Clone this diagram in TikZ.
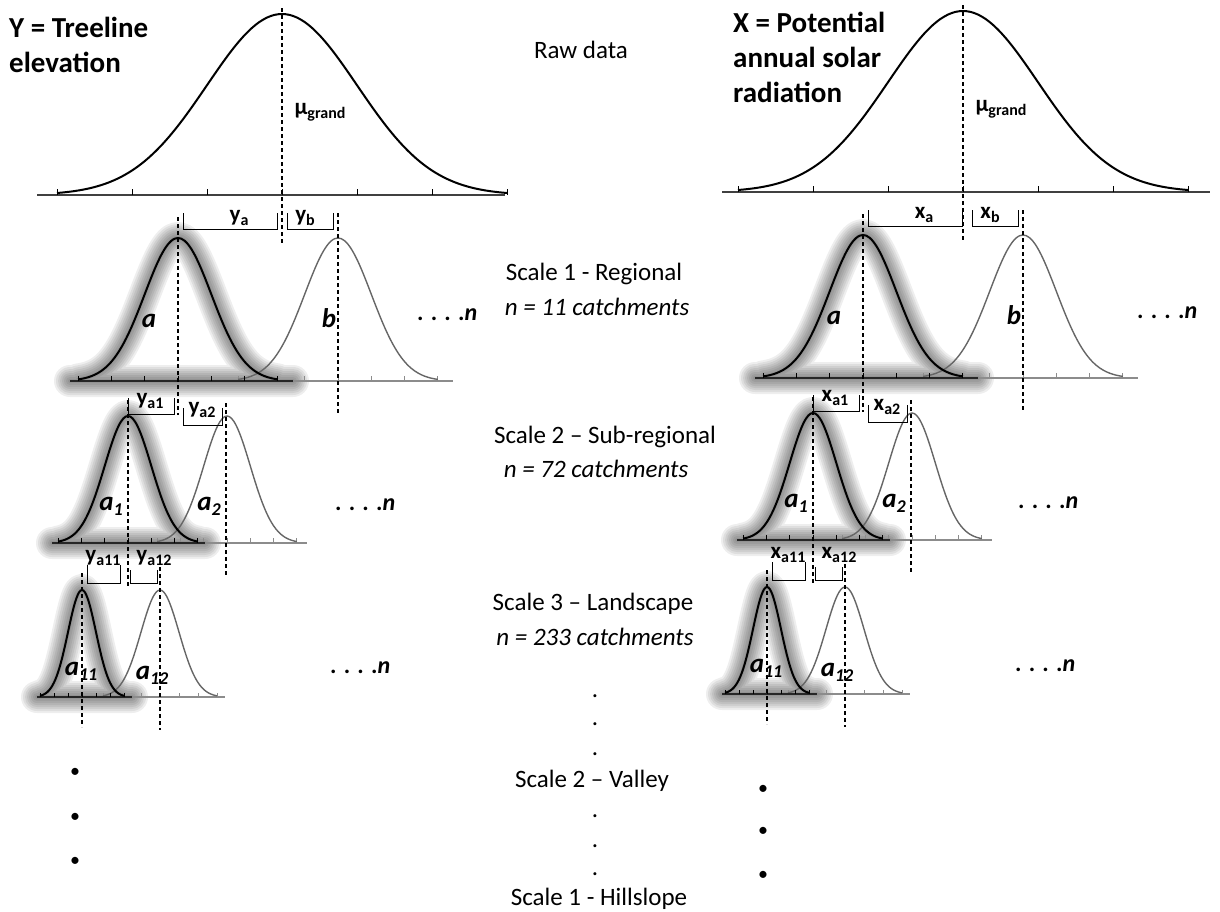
\documentclass[tikz,border=0pt]{standalone}
\usepackage{fontspec}
\setmainfont{Carlito}
\usetikzlibrary{positioning}

% bell curve as a plot path: centre, base, height, sigma
\newcommand{\bellpath}[4]{plot[domain=-3:3, samples=61, smooth] ({#1+#4*\x}, {#2-#3*exp(-0.5*(\x)^2)})}
% ticks under a curve: centre, base, sigma, length, style
\newcommand{\bellticks}[5]{\foreach \k in {-3,...,3} \draw[#5] ({#1+#3*\k},#2) -- ++(0,-#4);}
% soft shadow round the picked curve and its axis
\newcommand{\bellglow}[6]{\foreach \w in {32,28,...,4}
  \draw[black, line width=\w pt, opacity=0.065, line cap=round, line join=round] \bellpath{#1}{#2}{#3}{#4} (#5,#2) -- (#6,#2);}
\newcommand{\lblsub}[1]{\raisebox{-4pt}{\fontsize{16}{16}\selectfont #1}}
\newcommand{\itsub}[1]{\raisebox{-5pt}{\fontsize{18}{18}\selectfont #1}}

\begin{document}
\begin{tikzpicture}[x=1pt, y=-1pt,
    maincurve/.style={black, line width=2pt},
    subcurve/.style={black!60, line width=1.4pt},
    topaxis/.style={black!75, line width=1.4pt},
    mainaxis/.style={black!85, line width=2.6pt},
    subaxis/.style={black!45, line width=2pt},
    maintick/.style={black, line width=0.9pt},
    subtick/.style={black!45, line width=0.9pt},
    guide/.style={black, line width=1.1pt, dash pattern=on 4pt off 3pt},
    brace/.style={black, line width=0.9pt},
    lbl/.style={font=\fontsize{23}{26}\selectfont\bfseries, inner sep=0pt, anchor=base},
    itl/.style={font=\fontsize{27}{29}\selectfont\bfseries\itshape, inner sep=0pt, anchor=base},
    more/.style={font=\fontsize{24}{26}\selectfont\bfseries, inner sep=0pt, anchor=base west},
    title/.style={font=\fontsize{29}{35}\selectfont\bfseries, inner sep=0pt, anchor=north west, align=left},
    txt/.style={font=\fontsize{25}{28}\selectfont, inner sep=0pt, anchor=base},
  ]
  \useasboundingbox (0,0) rectangle (1220,911);

  % the two panels: Y on the left, X on the right
  \foreach \dx/\dy/\v/\gx/\ge in {0/0/y/282/505, 685/-3/x/278/525} {
    \begin{scope}[shift={(\dx,\dy)}]
      % raw data
      \draw[topaxis] (37,195) -- (\ge,195);
      \bellticks{\gx}{195}{75}{6}{maintick}
      \draw[maincurve] \bellpath{\gx}{195}{181}{75};
      \draw[guide] (\gx,8) -- (\gx,245);
      \node[lbl] (\v-mu) at (\gx+38,114) {µ\lblsub{grand}};

      % scale 1
      \bellglow{178}{381}{143}{33.3}{70}{293}
      \draw[subaxis] (233,381) -- (453,381);
      \bellticks{338}{381}{33.3}{5}{subtick}
      \draw[subcurve] \bellpath{338}{381}{143}{33.3};
      \draw[mainaxis] (70,381) -- (293,381);
      \bellticks{178}{381}{33.3}{5}{maintick}
      \draw[maincurve] \bellpath{178}{381}{143}{33.3};
      \draw[guide] (178,217) -- (178,415);
      \draw[guide] (338,213) -- (338,413);
      \draw[brace] (183,213) -- (183,229) -- (277,229) -- (277,213);
      \draw[brace] (287,213) -- (287,229) -- (333,229) -- (333,213);
      \node[lbl] (\v-da) at (239,221) {\v\lblsub{a}};
      \node[lbl] (\v-db) at (305,221) {\v\lblsub{b}};
      \node[itl] (\v-a) at (149,327) {a};
      \node[itl] (\v-b) at (329,327) {b};

      % scale 2
      \bellglow{128}{543}{127}{23.3}{52}{205}
      \draw[subaxis] (160,543) -- (307,543);
      \bellticks{227}{543}{23.3}{5}{subtick}
      \draw[subcurve] \bellpath{227}{543}{127}{23.3};
      \draw[mainaxis] (52,543) -- (205,543);
      \bellticks{128}{543}{23.3}{5}{maintick}
      \draw[maincurve] \bellpath{128}{543}{127}{23.3};
      \draw[guide] (128,400) -- (128,587);
      \draw[guide] (226,403) -- (226,575);
      \draw[brace] (128,398) -- (128,414) -- (174,414) -- (174,398);
      \draw[brace] (183,408) -- (183,425) -- (222,425) -- (222,408);
      \node[lbl] (\v-da1) at (150,404) {\v\lblsub{a1}};
      \node[lbl] (\v-da2) at (202,413) {\v\lblsub{a2}};
      \node[itl] (\v-a1) at (111,510) {a\itsub{1}};
      \node[itl] (\v-a2) at (209,510) {a\itsub{2}};

      % scale 3
      \bellglow{82}{697}{107}{14}{37}{132}
      \draw[subaxis] (100,697) -- (225,697);
      \bellticks{160}{697}{19}{4}{subtick}
      \draw[subcurve] \bellpath{160}{697}{107}{19};
      \draw[mainaxis] (37,697) -- (132,697);
      \bellticks{82}{697}{14}{4}{maintick}
      \draw[maincurve] \bellpath{82}{697}{107}{14};
      \draw[guide] (82,573) -- (82,727);
      \draw[guide] (160,567) -- (160,730);
      \draw[brace] (87,565) -- (87,583) -- (120,583) -- (120,565);
      \draw[brace] (130,570) -- (130,583) -- (157,583) -- (157,570);
      \node[lbl] (\v-da11) at (103,561) {\v\lblsub{a11}};
      \node[lbl] (\v-da12) at (154,561) {\v\lblsub{a12}};
      \node[itl] (\v-a11) at (81,675) {a\itsub{11}};
      \node[itl] (\v-a12) at (152,679) {a\itsub{12}};
    \end{scope}
  }

  % titles
  \node[title] (ytitle) at (9,17) {Y = Treeline\\elevation};
  \node[title] (xtitle) at (733,12) {X = Potential\\annual solar\\radiation};

  % more catchments
  \node[more] (ymore1) at (417,320) {. . . .\textit{n}};
  \node[more] (ymore2) at (335,510) {. . . .\textit{n}};
  \node[more] (ymore3) at (330,673) {. . . .\textit{n}};
  \node[more] (xmore1) at (1137,318) {. . . .\textit{n}};
  \node[more] (xmore2) at (1018,508) {. . . .\textit{n}};
  \node[more] (xmore3) at (1015,671) {. . . .\textit{n}};

  % scale names
  \node[txt] (raw) at (581,58) {Raw data};
  \node[txt] (s1) at (594,280) {Scale 1 - Regional};
  \node[txt, font=\fontsize{25}{28}\selectfont\itshape] (s1n) at (597,315) {n = 11 catchments};
  \node[txt] (s2) at (605,443) {Scale 2 – Sub-regional};
  \node[txt, font=\fontsize{25}{28}\selectfont\itshape] (s2n) at (596,477) {n = 72 catchments};
  \node[txt] (s3) at (593,610) {Scale 3 – Landscape};
  \node[txt, font=\fontsize{25}{28}\selectfont\itshape] (s3n) at (595,645) {n = 233 catchments};
  \node[txt] (valley) at (592,787) {Scale 2 – Valley};
  \node[txt] (hill) at (599,905) {Scale 1 - Hillslope};
  \foreach \yy [count=\i] in {697,725,755,817,847,875}
    \node[txt] (gap\i) at (595,\yy) {.};

  % further nested levels
  \foreach \yy [count=\i] in {773,818,862}
    \node[txt, font=\fontsize{20}{22}\selectfont, anchor=center] (ydot\i) at (75,\yy) {•};
  \foreach \yy [count=\i] in {790,832,876}
    \node[txt, font=\fontsize{20}{22}\selectfont, anchor=center] (xdot\i) at (763,\yy) {•};
\end{tikzpicture}
\end{document}
